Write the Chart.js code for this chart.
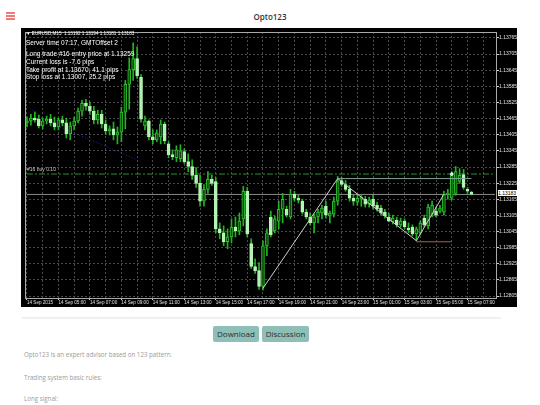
<!DOCTYPE html>
<html><head><meta charset="utf-8">
<script src="https://cdn.jsdelivr.net/npm/chart.js@4.4.1/dist/chart.umd.min.js"></script>
<style>
html,body{margin:0;padding:0;background:#fff;width:540px;height:405px;overflow:hidden;font-family:'Open Sans',sans-serif;}
#menu{position:absolute;left:6px;top:12px;width:9px;}
#menu span{display:block;height:1.5px;background:#ec7b7b;margin-bottom:1.6px;}
#title{position:absolute;left:0;width:540px;top:11px;text-align:center;font-size:8px;font-weight:600;color:#333;line-height:12px;}
#wrap{position:absolute;left:21px;top:28px;width:496px;height:279px;background:#000;}
canvas{display:block;}
.ov{position:absolute;color:#fff;font-family:'Liberation Sans',Arial,sans-serif;white-space:nowrap;line-height:1;}
#sep{position:absolute;left:22px;top:317px;width:479px;height:2px;background:#eef1f1;}
.btn{position:absolute;top:326px;height:16px;background:#8dbfb7;color:#2d2d2d;font-size:8px;line-height:16px;text-align:center;border-radius:2px;}
.p{position:absolute;left:24px;font-size:6.2px;color:#9a9a9a;line-height:1;}
</style></head><body>
<div id="menu"><span></span><span></span><span></span></div>
<div id="title">Opto123</div>
<div id="wrap"><canvas id="c" width="496" height="279"></canvas></div>
<div class="ov" style="left:26px;top:31.5px;font-size:4.6px;">&#9660; EURUSD,M15&nbsp; 1.13192 1.13194 1.13181 1.13183</div>
<div class="ov" style="left:26px;top:39.5px;font-size:6.5px;">Server time 07:17, GMTOffset 2</div>
<div class="ov" style="left:26px;top:51px;font-size:6.5px;">Long trade #16 entry price at 1.13259</div>
<div class="ov" style="left:26px;top:59px;font-size:6.5px;">Current loss is -7.6 pips</div>
<div class="ov" style="left:26px;top:66.5px;font-size:6.5px;">Take profit at 1.13670, 41.1 pips</div>
<div class="ov" style="left:26px;top:73.5px;font-size:6.5px;">Stop loss at 1.13007, 25.2 pips</div>
<div class="ov" style="left:27px;top:166.5px;font-size:5px;color:#c8c8c8;">#16 buy 0.10</div>
<div class="ov" style="left:498px;top:190px;width:19px;height:6px;background:#fff;color:#000;font-size:5px;line-height:6px;">1.13183</div>
<div id="sep"></div>
<div class="btn" style="left:213px;width:46px;">Download</div>
<div class="btn" style="left:262px;width:47px;">Discussion</div>
<div class="p" style="top:352px;">Opto123 is an expert advisor based on 123 pattern.</div>
<div class="p" style="top:375px;">Trading system basic rules:</div>
<div class="p" style="top:396px;">Long signal:</div>
<script>
// EURUSD M15, 14 Sep 2015 03:00 -> 15 Sep 2015 07:15
const open = [
1.13449,1.13456,1.13467,1.13463,1.13438,1.13456,1.13463,1.13449,1.13434,1.13460,
1.13449,1.13408,1.13438,1.13456,1.13493,1.13522,1.13511,1.13493,1.13460,1.13481,
1.13445,1.13419,1.13427,1.13404,1.13415,1.13489,1.13592,1.13647,1.13688,1.13618,
1.13438,1.13456,1.13397,1.13386,1.13397,1.13445,1.13371,1.13331,1.13320,1.13316,
1.13342,1.13305,1.13287,1.13254,1.13224,1.13158,1.13202,1.13239,1.13231,1.13055,
1.13040,1.13007,1.13025,1.13062,1.13047,1.13092,1.13195,1.13000,1.12915,1.12900,
1.12841,1.12992,1.13099,1.13047,1.13084,1.13128,1.13128,1.13099,1.13184,1.13169,
1.13158,1.13117,1.13099,1.13077,1.13099,1.13114,1.13139,1.13103,1.13110,1.13158,
1.13235,1.13220,1.13202,1.13169,1.13154,1.13165,1.13165,1.13147,1.13165,1.13143,
1.13132,1.13117,1.13099,1.13081,1.13088,1.13070,1.13084,1.13058,1.13062,1.13036,
1.13040,1.13095,1.13066,1.13110,1.13121,1.13121,1.13117,1.13184,1.13169,1.13187,
1.13231,1.13257,1.13202,1.13192];
const high = [
1.13471,1.13481,1.13489,1.13478,1.13467,1.13474,1.13481,1.13471,1.13467,1.13474,
1.13467,1.13452,1.13471,1.13504,1.13533,1.13537,1.13526,1.13511,1.13496,1.13496,
1.13460,1.13438,1.13452,1.13434,1.13507,1.13607,1.13691,1.13747,1.13732,1.13629,
1.13474,1.13460,1.13423,1.13423,1.13460,1.13452,1.13379,1.13349,1.13364,1.13368,
1.13353,1.13334,1.13312,1.13283,1.13254,1.13220,1.13268,1.13254,1.13246,1.13077,
1.13066,1.13055,1.13092,1.13099,1.13114,1.13213,1.13209,1.13018,1.12944,1.12930,
1.13011,1.13055,1.13121,1.13103,1.13158,1.13187,1.13139,1.13202,1.13195,1.13180,
1.13165,1.13128,1.13114,1.13110,1.13128,1.13143,1.13158,1.13121,1.13173,1.13250,
1.13246,1.13235,1.13217,1.13180,1.13180,1.13184,1.13176,1.13173,1.13180,1.13154,
1.13143,1.13128,1.13114,1.13106,1.13099,1.13095,1.13092,1.13077,1.13070,1.13062,
1.13084,1.13106,1.13147,1.13158,1.13136,1.13143,1.13195,1.13202,1.13268,1.13287,
1.13279,1.13276,1.13209,1.13194];
const low = [
1.13434,1.13441,1.13452,1.13430,1.13427,1.13445,1.13438,1.13423,1.13423,1.13438,
1.13393,1.13386,1.13423,1.13449,1.13474,1.13496,1.13481,1.13445,1.13445,1.13430,
1.13408,1.13404,1.13386,1.13371,1.13379,1.13427,1.13500,1.13607,1.13614,1.13452,
1.13423,1.13386,1.13371,1.13379,1.13371,1.13371,1.13320,1.13312,1.13305,1.13305,
1.13298,1.13268,1.13239,1.13209,1.13139,1.13139,1.13187,1.13217,1.13040,1.13018,
1.12992,1.12981,1.13003,1.13025,1.13033,1.13066,1.13025,1.12908,1.12889,1.12830,
1.12827,1.12955,1.13025,1.13040,1.13055,1.13077,1.13099,1.13092,1.13158,1.13151,
1.13110,1.13092,1.13070,1.13040,1.13077,1.13092,1.13095,1.13077,1.13099,1.13143,
1.13213,1.13195,1.13158,1.13143,1.13143,1.13139,1.13136,1.13136,1.13128,1.13121,
1.13106,1.13095,1.13081,1.13073,1.13062,1.13062,1.13055,1.13040,1.13029,1.13011,
1.13033,1.13062,1.13055,1.13099,1.13099,1.13114,1.13106,1.13165,1.13162,1.13180,
1.13224,1.13202,1.13187,1.13181];
const close = [
1.13456,1.13467,1.13460,1.13438,1.13456,1.13463,1.13449,1.13434,1.13460,1.13449,
1.13408,1.13438,1.13456,1.13493,1.13522,1.13511,1.13493,1.13460,1.13481,1.13445,
1.13419,1.13427,1.13404,1.13415,1.13489,1.13592,1.13647,1.13688,1.13625,1.13463,
1.13456,1.13397,1.13386,1.13412,1.13445,1.13382,1.13331,1.13323,1.13349,1.13345,
1.13305,1.13287,1.13254,1.13224,1.13158,1.13202,1.13239,1.13224,1.13055,1.13040,
1.13007,1.13025,1.13062,1.13047,1.13084,1.13195,1.13036,1.12915,1.12900,1.12841,
1.12992,1.13040,1.13033,1.13092,1.13128,1.13165,1.13106,1.13184,1.13169,1.13162,
1.13117,1.13099,1.13077,1.13099,1.13117,1.13132,1.13106,1.13114,1.13158,1.13231,
1.13220,1.13202,1.13169,1.13158,1.13169,1.13173,1.13147,1.13162,1.13139,1.13128,
1.13114,1.13103,1.13084,1.13095,1.13070,1.13084,1.13062,1.13051,1.13036,1.13055,
1.13077,1.13070,1.13136,1.13143,1.13106,1.13132,1.13184,1.13187,1.13254,1.13268,
1.13254,1.13209,1.13195,1.13183];

// time axis labels, one every 8 bars (2 hours)
const tickLabels = ['14 Sep 2015','14 Sep 05:00','14 Sep 07:00','14 Sep 09:00','14 Sep 11:00','14 Sep 13:00',
  '14 Sep 15:00','14 Sep 17:00','14 Sep 19:00','14 Sep 21:00','14 Sep 23:00','15 Sep 01:00',
  '15 Sep 03:00','15 Sep 05:00','15 Sep 07:00'];
// price axis labels
const priceTicks = [1.12805,1.12865,1.12925,1.12985,1.13045,1.13105,1.13165,1.13225,1.13285,
  1.13345,1.13405,1.13465,1.13525,1.13585,1.13645,1.13705,1.13765];

const entryPrice = 1.13259;
const bidPrice = 1.13183;
const stopPrice = 1.13007;
const point2Level = 1.13242;
// 123 pattern zigzag: [bar, price]
const pattern123 = [[60,1.12834],[79,1.13242],[99,1.13011],[106,1.13184]];
const blueTrend = [[0,1.13511],[4,1.13467],[9,1.13430],[19,1.13368],[28,1.13312]];
const buyMark = [[108,1.13259]];

const SLOTS = 120;
const slots = Array.from({length: SLOTS}, (_, i) => String(i));
const pts = arr => arr.map(([i, v]) => ({x: String(i), y: v}));

const bull = '#0a4d0a', bullEdge = '#2fbf2f', bear = '#b6f3b6', wick = '#22b422';
const isBull = i => close[i] >= open[i];

const bgFrame = {
  id: 'bgFrame',
  beforeDraw(c) { const g = c.ctx; g.save(); g.fillStyle = '#000'; g.fillRect(0, 0, c.width, c.height); g.restore(); },
  afterDraw(c) {
    const a = c.chartArea, g = c.ctx; g.save(); g.strokeStyle = '#a8a8a8'; g.lineWidth = 1;
    g.strokeRect(Math.round(a.left) + 0.5, Math.round(a.top) + 0.5, Math.round(a.right - a.left) - 1, Math.round(a.bottom - a.top));
    g.restore();
  }
};

const lineDs = (data, color, extra) => Object.assign({
  type: 'line', data, borderColor: color, borderWidth: 1, pointRadius: 0, tension: 0, order: 0, fill: false
}, extra || {});

new Chart(document.getElementById('c'), {
  type: 'bar',
  data: {
    labels: slots,
    datasets: [
      lineDs(pts([[0, bidPrice], [119, bidPrice]]), '#8a8a8a', {order: 3}),
      lineDs(pts([[0, entryPrice], [119, entryPrice]]), '#2f8f2f', {borderDash: [6, 2, 2, 2], order: 3}),
      lineDs(pts(blueTrend), '#2828a8', {borderDash: [1, 2], order: 3}),
      { type: 'bar', data: low.map((l, i) => [l, high[i]]), backgroundColor: wick, barThickness: 1, grouped: false, order: 2 },
      { type: 'bar', data: open.map((o, i) => [o, close[i]]),
        backgroundColor: ctx => isBull(ctx.dataIndex) ? bull : bear,
        borderColor: ctx => isBull(ctx.dataIndex) ? bullEdge : bear,
        borderWidth: 1, borderSkipped: false, barThickness: 3, grouped: false, order: 1 },
      lineDs(pts([[79, point2Level], [113, point2Level]]), '#7ea698'),
      lineDs(pts([[99, stopPrice], [108, stopPrice]]), '#b45a4c'),
      lineDs(pts(pattern123), '#cfcfcf'),
      lineDs(pts(buyMark), '#d8f2f2', {showLine: false, pointRadius: 2.2, pointStyle: 'rectRot', pointBackgroundColor: '#d8f2f2', pointBorderWidth: 0})
    ]
  },
  options: {
    responsive: false, animation: false, devicePixelRatio: 1,
    layout: {padding: {left: 1, top: 1, right: 0, bottom: 0}},
    plugins: {legend: {display: false}, tooltip: {enabled: false}},
    scales: {
      x: {
        type: 'category', offset: true,
        afterFit: s => { s.height = 9; },
        grid: { offset: false, drawTicks: true, tickLength: 2,
          color: ctx => ctx.index % 4 === 0 ? '#4a4a4a' : 'rgba(0,0,0,0)',
          tickColor: ctx => ctx.index % 8 === 0 ? '#cfcfcf' : 'rgba(0,0,0,0)' },
        border: {display: false, dash: [2, 2]},
        ticks: { autoSkip: false, maxRotation: 0, minRotation: 0, align: 'start', padding: 0,
          color: '#e0e0e0', font: {size: 4.6, family: "'Liberation Sans', Arial, sans-serif"},
          callback: (v, i) => i % 8 === 0 ? (tickLabels[i / 8] || '') : '' }
      },
      y: {
        type: 'linear', position: 'right', min: 1.12798, max: 1.13787,
        afterFit: s => { s.width = 20; },
        afterBuildTicks: s => { s.ticks = priceTicks.map(v => ({value: v})); },
        grid: { color: '#4a4a4a', drawTicks: true, tickLength: 2, tickColor: '#cfcfcf' },
        border: {display: false, dash: [2, 2]},
        ticks: { padding: 0, color: '#e0e0e0', font: {size: 5, family: "'Liberation Sans', Arial, sans-serif"},
          callback: v => Number(v).toFixed(5) }
      }
    }
  },
  plugins: [bgFrame]
});
</script>
</body></html>
